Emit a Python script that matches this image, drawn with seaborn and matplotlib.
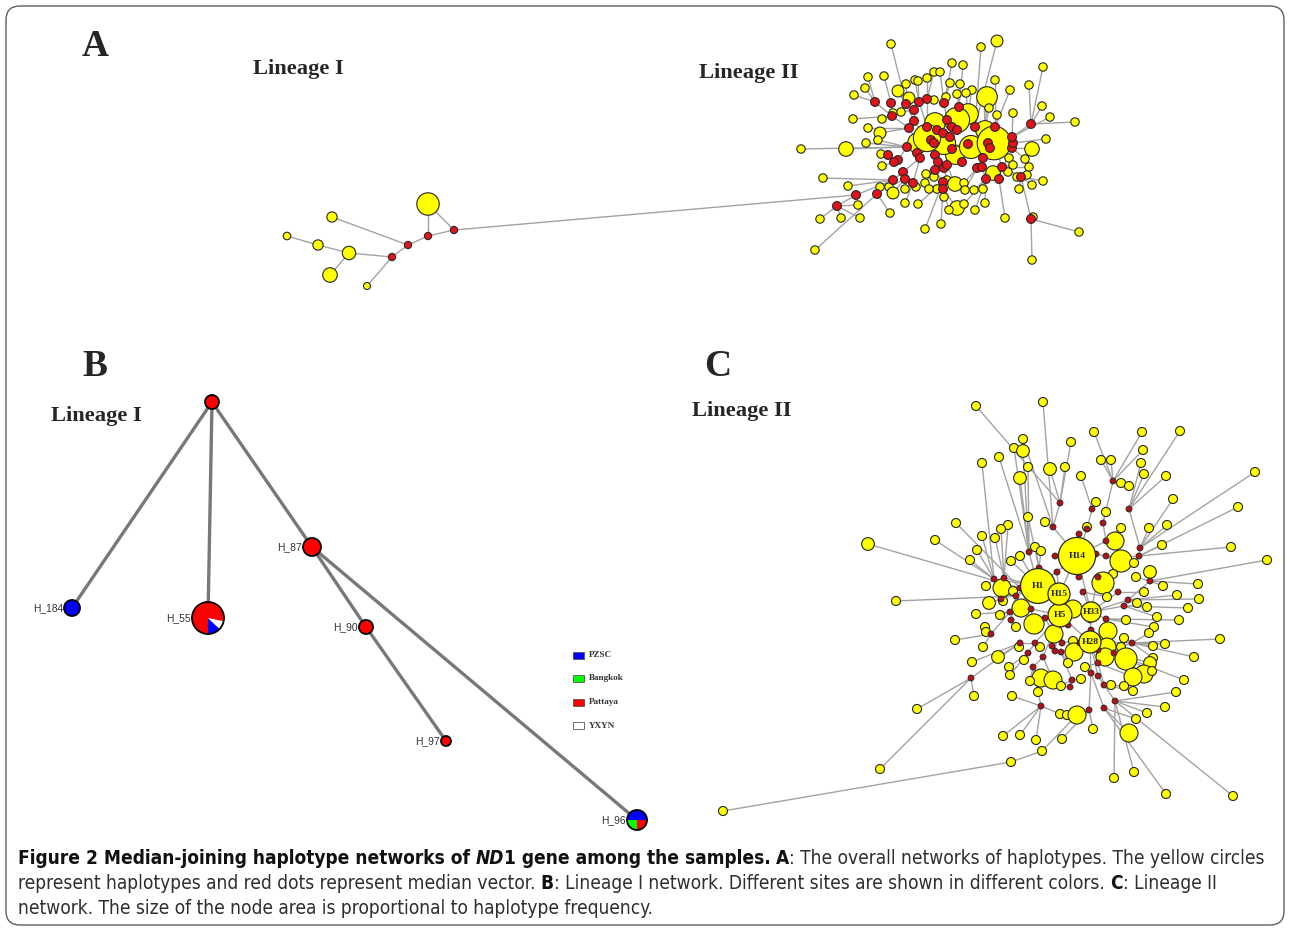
# Median-joining haplotype networks of ND1 gene (panels A, B, C + caption)

import numpy as np
import matplotlib
matplotlib.use('Agg')
import matplotlib.pyplot as plt
import seaborn as sns
from matplotlib.collections import LineCollection
from matplotlib.patches import Circle, Wedge, Rectangle, FancyBboxPatch
from matplotlib import font_manager

# ---------------------------------------------------------------------------
# Panel A, lineage II: big haplotypes (hubs), median vectors, small haplotypes
# (links point into the "core" list = hubs followed by medians)

a_hub_x = [994, 927, 957, 944, 971, 918, 968, 935, 985, 955]
a_hub_y = [143, 138, 120, 143, 147, 143, 114, 123, 130, 155]
a_hub_freq = [16, 10.5, 9, 7.5, 7.5, 6, 6, 6, 5, 5]
a_hub_pairs = [(0, 8), (8, 6), (6, 2), (2, 7), (7, 1), (1, 5), (1, 3), (3, 4),
               (4, 0), (3, 9), (9, 4), (2, 3)]

a_med_x = [875, 891, 906, 914, 919, 927, 944, 959, 947, 952,
           937, 927, 914, 909, 892, 907, 917, 931, 934, 943,
           957, 950, 952, 935, 920, 898, 888, 894, 903, 893,
           905, 913, 938, 944, 947, 962, 968, 975, 995, 988,
           990, 983, 977, 982, 986, 999, 1002, 1012, 1013, 1012,
           1021, 1031, 935, 943, 856, 877, 837, 1031, 943]
a_med_y = [102, 103, 104, 110, 102, 99, 103, 107, 120, 127,
           130, 127, 121, 128, 116, 147, 153, 140, 143, 133,
           130, 137, 149, 155, 158, 160, 155, 162, 172, 180,
           179, 183, 162, 168, 165, 162, 144, 127, 127, 143,
           148, 158, 168, 167, 179, 179, 167, 148, 143, 137,
           177, 124, 170, 182, 195, 194, 206, 219, 189]
a_med_link = [24, 24, 22, 22, 21, 21, 18, 2, 2, 2,
              1, 1, 1, 5, 23, 5, 5, 1, 3, 3,
              2, 3, 9, 3, 26, 25, 35, 35, 34, 38,
              38, 34, 33, 42, 9, 9, 4, 8, 0, 0,
              0, 4, 51, 51, 53, 56, 0, 0, 0, 0,
              56, 59, 33, 62, 39, 39, 64, 60, 63]

a_hap_x = [891, 997, 981, 952, 963, 1043, 868, 884, 906, 915,
           918, 927, 934, 940, 950, 960, 972, 984, 987, 995,
           1010, 1029, 854, 865, 898, 909, 934, 946, 957, 966,
           1042, 989, 997, 1013, 1050, 1075, 853, 882, 893, 901,
           868, 880, 1046, 1032, 801, 846, 866, 878, 881, 882,
           1009, 1025, 1029, 1013, 823, 848, 880, 889, 893, 905,
           916, 926, 925, 934, 947, 955, 964, 974, 965, 993,
           1008, 1017, 1027, 1032, 1043, 1019, 983, 944, 937, 929,
           918, 905, 890, 858, 860, 841, 820, 957, 949, 964,
           975, 985, 1005, 1033, 941, 925, 815, 1079, 1032]
a_hap_y = [44, 41, 47, 63, 65, 67, 77, 76, 84, 80,
           81, 78, 72, 72, 83, 84, 90, 92, 97, 80,
           90, 85, 95, 88, 91, 98, 100, 97, 94, 93,
           106, 108, 115, 113, 117, 122, 119, 119, 113, 112,
           128, 133, 139, 149, 149, 149, 143, 140, 154, 166,
           158, 159, 167, 165, 178, 186, 187, 187, 193, 189,
           187, 174, 183, 177, 180, 184, 183, 190, 190, 173,
           172, 177, 175, 185, 181, 189, 189, 197, 189, 189,
           204, 203, 213, 205, 218, 218, 219, 208, 210, 204,
           210, 203, 218, 217, 224, 229, 250, 232, 260]
a_hap_freq = [1, 2, 1, 1, 1, 1, 1, 1, 1, 1,
              1, 1, 1, 1, 1, 1, 1, 1, 6, 1,
              1, 1, 1, 1, 2, 2, 1, 1, 1, 1,
              1, 1, 1, 1, 1, 1, 1, 1, 1, 1,
              1, 2, 1, 3, 1, 3, 1, 1, 1, 1,
              1, 1, 1, 1, 1, 1, 1, 1, 2, 1,
              1, 1, 1, 1, 1, 3, 1, 1, 1, 3,
              1, 1, 1, 1, 1, 1, 1, 1, 1, 1,
              1, 1, 1, 1, 1, 1, 1, 3, 1, 1,
              1, 1, 1, 1, 1, 1, 1, 1, 1]
a_hap_link = [12, 47, 47, 16, 17, 61, 10, 11, 12, 14,
              14, 15, 15, 16, 16, 17, 6, 8, 8, 48,
              48, 61, 10, 10, 12, 13, 15, 16, 17, 6,
              61, 8, 48, 59, 59, 61, 24, 24, 24, 13,
              23, 23, 58, 57, 25, 25, 25, 25, 36, 37,
              56, 57, 56, 56, 39, 39, 39, 40, 40, 41,
              41, 62, 62, 62, 43, 44, 52, 54, 52, 55,
              56, 60, 60, 60, 60, 60, 54, 68, 63, 63,
              63, 41, 65, 66, 66, 66, 66, 68, 68, 54,
              54, 54, 55, 67, 68, 63, 65, 67, 67]

# Panel A, lineage I
a1_x = [287, 318, 332, 349, 330, 367, 428, 392, 408, 428, 454]
a1_y = [236, 245, 217, 253, 275, 286, 204, 257, 245, 236, 230]
a1_freq = [0.7, 1.3, 1.3, 2.2, 2.6, 0.6, 6.2, 0, 0, 0, 0]   # 0 = median vector
a1_pairs = [(0, 1), (1, 3), (3, 7), (3, 4), (2, 8), (7, 8), (7, 5), (8, 9),
            (9, 10), (9, 6), (6, 10)]
a_bridge = (10, 64)   # lineage I node -> lineage II core node

# ---------------------------------------------------------------------------
# Panel B, lineage I by site
b_names = ['', 'H_184', 'H_55', 'H_87', 'H_90', 'H_97', 'H_96']
b_x = [212, 72, 208, 312, 366, 446, 637]
b_y = [402, 608, 618, 547, 627, 741, 820]
b_radius = [7, 8, 16, 9, 7, 5, 10]
b_pzsc = [0, 1, 3, 0, 0, 0, 2]
b_yxyn = [0, 0, 2, 0, 0, 0, 0]
b_bangkok = [0, 0, 0, 0, 0, 0, 1]
b_pattaya = [1, 0, 18, 1, 1, 1, 1]
b_pie_start = [0, 0, -90, 0, 0, 0, 0]
b_pairs = [(0, 1), (0, 2), (0, 3), (3, 4), (4, 5), (3, 6)]
b_sites = ['PZSC', 'Bangkok', 'Pattaya', 'YXYN']

# ---------------------------------------------------------------------------
# Panel C, lineage II
c_hub_names = ['H1', 'H14', 'H15', 'H5', 'H33', 'H28']
c_hub_x = [1038, 1077, 1059, 1060, 1091, 1090]
c_hub_y = [586, 556, 594, 615, 612, 642]
c_hub_freq = [15, 17, 6, 7, 5, 6]
c_hub_pairs = [(0, 1), (0, 2), (2, 3), (3, 4), (4, 5), (1, 4), (3, 5), (2, 1)]

c_med_x = [1060, 1092, 1129, 1113, 1053, 1087, 1103, 1079, 1106, 1140,
           1139, 1029, 1055, 1096, 1106, 1039, 1057, 1098, 1150, 994,
           1004, 1020, 1079, 1083, 1118, 1128, 1124, 1016, 1010, 1031,
           1045, 1090, 1106, 1091, 1068, 1011, 991, 1052, 1062, 1061,
           1035, 1020, 1028, 1043, 1055, 1080, 1098, 1132, 1114, 1098,
           1033, 1091, 1098, 1072, 1070, 1104, 1115, 1104, 1089, 1041,
           971, 1001]
c_med_y = [503, 509, 509, 481, 527, 529, 523, 534, 541, 548,
           556, 552, 556, 554, 556, 568, 572, 577, 581, 579,
           578, 588, 577, 592, 592, 600, 606, 596, 612, 609,
           618, 620, 619, 630, 625, 620, 634, 646, 643, 652,
           643, 643, 653, 657, 651, 643, 650, 643, 653, 663,
           667, 673, 676, 680, 687, 685, 701, 708, 710, 706,
           678, 599]
c_med_link = [10, 11, 15, 12, 1, 1, 14, 1, 1, 16,
              20, 0, 1, 1, 19, 0, 2, 4, 31, 0,
              0, 0, 1, 4, 4, 4, 4, 0, 0, 3,
              3, 4, 4, 5, 3, 33, 34, 3, 3, 5,
              3, 46, 46, 3, 3, 5, 5, 5, 5, 5,
              49, 5, 5, 45, 59, 55, 58, 57, 57, 56,
              47, 0]

c_hap_x = [976, 1043, 1094, 1142, 1180, 1071, 1023, 1014, 1023, 999,
           982, 1028, 1050, 1065, 1101, 1111, 1143, 1141, 1144, 1166,
           1121, 1129, 1255, 1081, 1020, 1173, 1238, 1096, 1106, 1028,
           1045, 956, 1008, 1001, 1087, 1121, 1149, 1167, 935, 982,
           995, 1115, 1162, 1231, 868, 977, 970, 1011, 1020, 1035,
           1041, 1121, 1134, 1267, 1113, 1150, 1136, 1163, 1198, 1103,
           986, 1002, 1013, 1144, 1177, 1199, 896, 989, 1003, 1021,
           1073, 1107, 1137, 1147, 1188, 1157, 1179, 976, 1000, 1016,
           1034, 1108, 1126, 1154, 985, 986, 1149, 1054, 1124, 955,
           1220, 1073, 1107, 1019, 983, 1040, 1121, 1165, 1153, 1074,
           998, 1105, 1126, 1153, 1194, 1024, 972, 1068, 1085, 1150,
           1144, 1009, 1010, 1041, 1053, 1081, 1133, 1184, 1030, 1152,
           1061, 1111, 1124, 1038, 1176, 1133, 974, 1012, 1165, 1147,
           917, 1060, 1067, 1077, 1136, 1093, 1129, 1003, 1020, 1036,
           1062, 880, 1114, 1134, 1166, 1233]
c_hap_y = [406, 402, 432, 432, 431, 442, 439, 448, 451, 457,
           463, 467, 469, 467, 460, 460, 450, 463, 474, 476,
           483, 486, 472, 476, 478, 499, 507, 502, 512, 517,
           522, 523, 525, 529, 527, 528, 528, 525, 540, 536,
           538, 541, 545, 547, 544, 550, 560, 561, 556, 547,
           551, 561, 563, 560, 574, 572, 577, 586, 584, 583,
           586, 588, 591, 592, 595, 599, 601, 603, 601, 608,
           609, 597, 603, 607, 608, 617, 620, 614, 615, 627,
           624, 631, 620, 627, 627, 632, 633, 634, 638, 640,
           639, 641, 647, 647, 647, 647, 647, 644, 646, 652,
           657, 657, 659, 658, 657, 660, 662, 663, 667, 663,
           674, 667, 675, 678, 680, 679, 677, 680, 681, 671,
           686, 685, 686, 692, 692, 691, 696, 696, 707, 713,
           709, 714, 715, 715, 719, 729, 733, 736, 735, 740,
           739, 769, 778, 772, 794, 796]
c_hap_freq = [1, 1, 1, 1, 1, 1, 1, 1, 2, 1,
              1, 1, 2, 1, 1, 1, 1, 1, 1, 1,
              1, 1, 1, 1, 2, 1, 1, 1, 1, 1,
              1, 1, 1, 1, 1, 1, 1, 1, 1, 1,
              1, 4, 1, 1, 2, 1, 1, 1, 1, 1,
              1, 6, 1, 1, 1, 2, 1, 1, 1, 6,
              1, 4, 1, 1, 1, 1, 1, 2, 1, 4,
              4, 1, 1, 1, 1, 1, 1, 1, 1, 1,
              5, 4, 1, 1, 1, 1, 1, 4, 1, 1,
              1, 1, 4, 1, 1, 1, 1, 1, 1, 4,
              2, 4, 6, 1, 1, 1, 1, 1, 1, 2,
              4, 1, 1, 4, 4, 1, 4, 1, 1, 1,
              1, 1, 1, 1, 1, 1, 1, 1, 1, 1,
              1, 1, 1, 4, 1, 1, 4, 1, 1, 1,
              1, 1, 1, 1, 1, 1]
c_hap_link = [6, 10, 9, 9, 8, 6, 10, 17, 17, 17,
              25, 17, 6, 6, 9, 9, 9, 8, 8, 8,
              9, 9, 15, 7, 17, 15, 16, 7, 12, 21,
              10, 27, 26, 26, 11, 14, 15, 15, 25, 25,
              26, 14, 16, 16, 27, 25, 25, 0, 0, 21,
              21, 20, 16, 24, 23, 24, 24, 24, 24, 23,
              25, 27, 0, 30, 31, 31, 33, 67, 67, 34,
              3, 29, 31, 32, 32, 32, 38, 34, 34, 41,
              35, 38, 38, 38, 42, 42, 53, 36, 53, 42,
              53, 44, 52, 47, 42, 46, 53, 53, 53, 51,
              47, 55, 54, 53, 53, 48, 47, 45, 55, 54,
              54, 48, 48, 56, 49, 59, 55, 54, 56, 54,
              59, 61, 61, 56, 62, 61, 66, 65, 62, 62,
              66, 65, 64, 64, 63, 64, 63, 65, 65, 65,
              64, 66, 62, 62, 63, 62]
# long tail at lower left, ending on haplotype (1077, 715)
c_tail_x = [723, 1011, 1042, 1077]
c_tail_y = [811, 762, 751, 715]

# Caption runs: (text, bold, italic, space before)
caption_lines = [
    [('Figure 2 Median-joining haplotype networks of', True, False, False),
     ('ND', True, True, True),
     ('1 gene among the samples.', True, False, False),
     ('A', True, False, True),
     (': The overall networks of haplotypes. The yellow circles', False, False, False)],
    [('represent haplotypes and red dots represent median vector.', False, False, False),
     ('B', True, False, True),
     (': Lineage I network. Different sites are shown in different colors.', False, False, False),
     ('C', True, False, True),
     (': Lineage II', False, False, False)],
    [('network. The size of the node area is proportional to haplotype frequency.', False, False, False)],
]

# ---------------------------------------------------------------------------
sns.set_style('white')
SERIF = ['Liberation Serif', 'DejaVu Serif']
plt.rcParams['font.family'] = ['Liberation Sans', 'DejaVu Sans']


def narrow_font(bold, italic):
    # look for a condensed / narrow sans face among the installed fonts
    for f in font_manager.fontManager.ttflist:
        name = f.name.lower()
        stretch = str(f.stretch).lower()
        narrow = ('narrow' in name or 'condensed' in name or 'condensed' in stretch
                  or (stretch.isdigit() and int(stretch) < 100))
        if not narrow or 'serif' in name.replace('sans', '') or 'mono' in name:
            continue
        w = f.weight if isinstance(f.weight, int) else (700 if 'bold' in str(f.weight) else 400)
        is_bold = w >= 600
        is_ital = f.style in ('italic', 'oblique')
        if is_bold == bold and is_ital == italic:
            return font_manager.FontProperties(fname=f.fname)
    return None


CAP_FONTS = {}
for b in (False, True):
    for it in (False, True):
        fp = narrow_font(b, it)
        if fp is None:
            fp = font_manager.FontProperties(family=['Liberation Sans', 'DejaVu Sans'],
                                             weight='bold' if b else 'normal',
                                             style='italic' if it else 'normal')
        CAP_FONTS[(b, it)] = fp

YELLOW = '#FFFF00'
RED_A = '#E3131B'
RED_C = '#B01318'
OUTLINE = '#262626'
LINK = '#A3A3A3'
SITE_COLORS = {'PZSC': '#0000FF', 'Bangkok': '#00FF00', 'Pattaya': '#FF0000', 'YXYN': '#FFFFFF'}

fig = plt.figure(figsize=(12.9, 9.32), dpi=100)
ax = fig.add_axes([0, 0, 1, 1])
ax.set_xlim(0, 1290)
ax.set_ylim(932, 0)
ax.axis('off')


def area(r):
    # marker area (pt^2) for a circle of radius r pixels at 100 dpi
    return (2 * np.asarray(r, float) * 0.72) ** 2


def nodes(x, y, r, color, z, lw=0.8):
    sns.scatterplot(x=np.asarray(x, float), y=np.asarray(y, float), s=area(r),
                    color=color, edgecolor=OUTLINE, linewidth=lw, ax=ax,
                    zorder=z, legend=False)


def links(segs, color, lw, z=1):
    ax.add_collection(LineCollection(segs, colors=color, linewidths=lw, zorder=z))


def network_segments(hx, hy, hpairs, mx, my, mlink, px, py, plink):
    cx, cy = list(hx) + list(mx), list(hy) + list(my)
    segs = [[(hx[i], hy[i]), (hx[j], hy[j])] for i, j in hpairs]
    segs += [[(x, y), (cx[k], cy[k])] for x, y, k in zip(mx, my, mlink)]
    segs += [[(x, y), (cx[k], cy[k])] for x, y, k in zip(px, py, plink)]
    return segs, cx, cy


# ---- panel A ----
segs, a_cx, a_cy = network_segments(a_hub_x, a_hub_y, a_hub_pairs, a_med_x, a_med_y,
                                    a_med_link, a_hap_x, a_hap_y, a_hap_link)
segs += [[(a1_x[i], a1_y[i]), (a1_x[j], a1_y[j])] for i, j in a1_pairs]
segs.append([(a1_x[a_bridge[0]], a1_y[a_bridge[0]]), (a_cx[a_bridge[1]], a_cy[a_bridge[1]])])
links(segs, LINK, 1.0)

nodes(a_hap_x, a_hap_y, 4.2 * np.sqrt(a_hap_freq), YELLOW, 3)
order = np.argsort(a_hub_freq)
nodes(np.array(a_hub_x)[order], np.array(a_hub_y)[order],
      4.2 * np.sqrt(np.array(a_hub_freq)[order]), YELLOW, 4)
nodes(a_med_x, a_med_y, np.full(len(a_med_x), 4.4), RED_A, 5)

a1_freq_arr = np.array(a1_freq)
hap = a1_freq_arr > 0
nodes(np.array(a1_x)[hap], np.array(a1_y)[hap], 4.5 * np.sqrt(a1_freq_arr[hap]), YELLOW, 3)
nodes(np.array(a1_x)[~hap], np.array(a1_y)[~hap], np.full((~hap).sum(), 3.6), RED_A, 5)

# ---- panel C ----
segs, c_cx, c_cy = network_segments(c_hub_x, c_hub_y, c_hub_pairs, c_med_x, c_med_y,
                                    c_med_link, c_hap_x, c_hap_y, c_hap_link)
segs.append(list(zip(c_tail_x, c_tail_y)))
links(segs, LINK, 1.0)

nodes(c_hap_x, c_hap_y, 4.5 * np.sqrt(c_hap_freq), YELLOW, 3)
nodes(c_tail_x[:-1], c_tail_y[:-1], np.full(len(c_tail_x) - 1, 4.5), YELLOW, 3)
nodes(c_med_x, c_med_y, np.full(len(c_med_x), 3.0), RED_C, 5, lw=0.6)
for name, x, y, f in sorted(zip(c_hub_names, c_hub_x, c_hub_y, c_hub_freq), key=lambda t: -t[3]):
    ax.add_patch(Circle((x, y), 4.5 * np.sqrt(f), facecolor=YELLOW, edgecolor=OUTLINE,
                        lw=0.9, zorder=6))
    ax.text(x, y, name, family=SERIF, fontweight='bold', fontsize=6.8,
            ha='center', va='center', color='#222222', zorder=7)

# ---- panel B ----
links([[(b_x[i], b_y[i]), (b_x[j], b_y[j])] for i, j in b_pairs], '#787878', 2.4)
for i in range(len(b_x)):
    x, y, r = b_x[i], b_y[i], b_radius[i]
    parts = [(b_pzsc[i], 'PZSC'), (b_yxyn[i], 'YXYN'), (b_bangkok[i], 'Bangkok'),
             (b_pattaya[i], 'Pattaya')]
    total = sum(c for c, _ in parts)
    ang = b_pie_start[i]
    for cnt, site in parts:
        if cnt == 0:
            continue
        span = 360.0 * cnt / total
        # y axis is inverted: screen angle a -> data angle -a
        ax.add_patch(Wedge((x, y), r, -(ang + span), -ang, facecolor=SITE_COLORS[site],
                           edgecolor='none', zorder=5))
        ang += span
    ax.add_patch(Circle((x, y), r, fill=False, edgecolor='black', lw=1.3, zorder=6))
    if b_names[i]:
        ax.text(x - r - 1, y, b_names[i], fontsize=7.4, color='#333333',
                ha='right', va='center', zorder=7)

for k, site in enumerate(b_sites):
    ly = 655 + k * 23.5
    ax.add_patch(Rectangle((573, ly - 3.5), 11, 7, facecolor=SITE_COLORS[site],
                           edgecolor='#555555', lw=0.6, zorder=5))
    ax.text(589, ly, site, family=SERIF, fontweight='bold', fontsize=6.6,
            color='#333333', ha='left', va='center')

# ---- panel letters and titles ----
for s, x, y in [('A', 95, 46), ('B', 95, 367), ('C', 718, 367)]:
    ax.text(x, y, s, family=SERIF, fontweight='bold', fontsize=27, ha='center', va='center')
for s, x, y in [('Lineage I', 298, 69), ('Lineage II', 749, 73),
                ('Lineage I', 96, 416), ('Lineage II', 742, 411)]:
    ax.text(x, y, s, family=SERIF, fontweight='bold', fontsize=16.2, ha='center', va='center')

# ---- frame ----
ax.add_patch(FancyBboxPatch((6, 6), 1278, 919, boxstyle='round,pad=0,rounding_size=14',
                            fill=False, edgecolor='#5e5e5e', lw=1.0, zorder=0))

# ---- caption ----
fig.canvas.draw()
renderer = fig.canvas.get_renderer()


def cap_text(x, y, s, size, bold, italic, **kw):
    fp = CAP_FONTS[(bold, italic)].copy()
    fp.set_size(size)
    return ax.text(x, y, s, fontproperties=fp, **kw)


def width_of(s, size, bold=False, italic=False):
    t = cap_text(0, 0, s, size, bold, italic)
    w = t.get_window_extent(renderer=renderer).width
    t.remove()
    return w


def line_width(runs, size):
    gap = width_of('x x', size) - width_of('xx', size)
    return sum(width_of(s, size, b, i) + (gap if sp else 0) for s, b, i, sp in runs)


cap_size = 12.0
cap_size *= 1244.0 / line_width(caption_lines[0], cap_size)
cap_size = min(cap_size, 14.0)
gap = width_of('x x', cap_size) - width_of('xx', cap_size)
for n, runs in enumerate(caption_lines):
    x = 18.0
    y = 858 + n * 25.5
    for s, b, it, sp in runs:
        if sp:
            x += gap
        t = cap_text(x, y, s, cap_size, b, it,
                     color='#111111' if b else '#2e2e2e', ha='left', va='center')
        x += t.get_window_extent(renderer=renderer).width

ax.set_xlim(0, 1290)
ax.set_ylim(932, 0)
fig.savefig('out.png', dpi=100)
